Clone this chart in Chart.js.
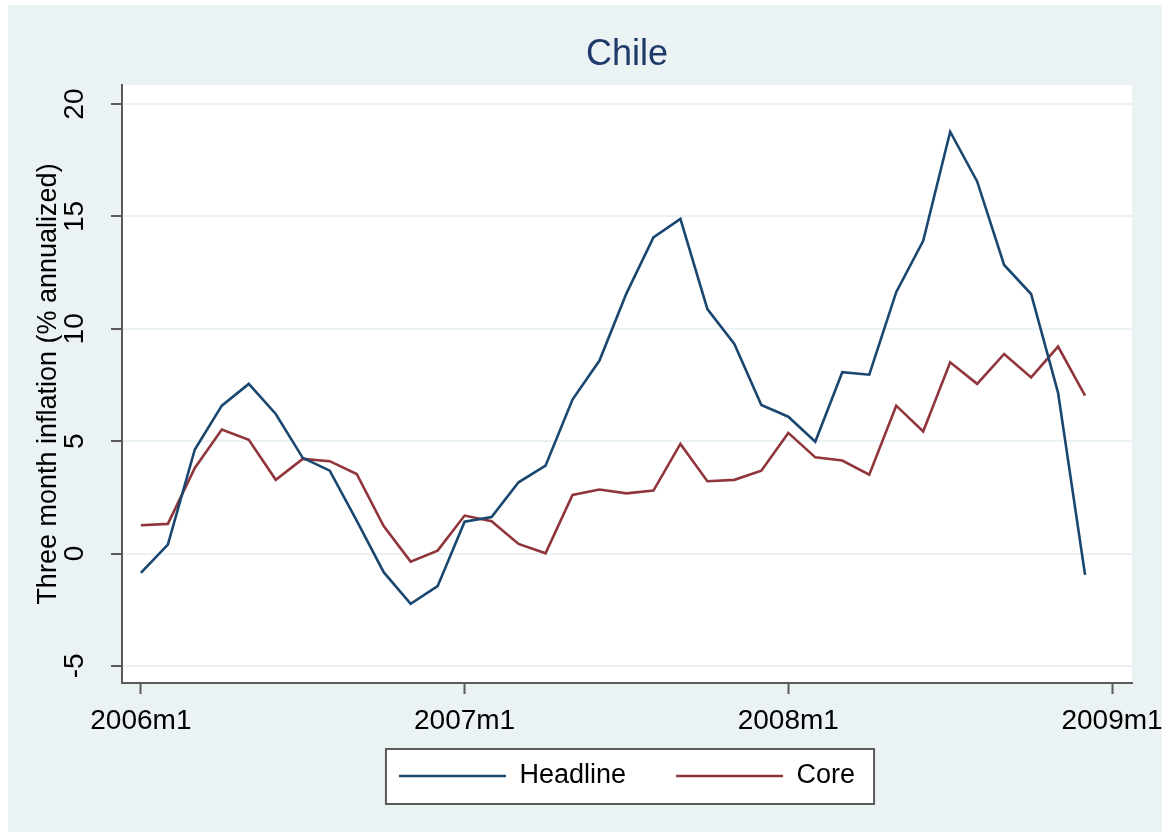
<!DOCTYPE html>
<html>
<head>
<meta charset="utf-8">
<title>Chile - Three month inflation</title>
<script src="https://cdn.jsdelivr.net/npm/chart.js@4/dist/chart.umd.min.js"></script>
<style>
  html, body { margin: 0; padding: 0; background: #ffffff; overflow: hidden; }
  #frame {
    position: absolute;
    left: 8px; top: 5px;
    width: 1154px; height: 827px;
    background: #eaf2f3;
    overflow: hidden;
  }
  #chileChart { display: block; }
</style>
</head>
<body>
<div id="frame"><canvas id="chileChart" width="1154" height="827"></canvas></div>
<script>
// Monthly observations, 2006m1 .. 2008m12
const months = [
  "2006m1", "2006m2", "2006m3", "2006m4", "2006m5", "2006m6",
  "2006m7", "2006m8", "2006m9", "2006m10", "2006m11", "2006m12",
  "2007m1", "2007m2", "2007m3", "2007m4", "2007m5", "2007m6",
  "2007m7", "2007m8", "2007m9", "2007m10", "2007m11", "2007m12",
  "2008m1", "2008m2", "2008m3", "2008m4", "2008m5", "2008m6",
  "2008m7", "2008m8", "2008m9", "2008m10", "2008m11", "2008m12"
];

const headline = [
  -0.86, 0.40, 4.63, 6.58, 7.55, 6.21, 4.26, 3.69, 1.47, -0.83, -2.24, -1.45,
  1.42, 1.62, 3.17, 3.91, 6.85, 8.59, 11.58, 14.07, 14.89, 10.88, 9.33, 6.61,
  6.09, 4.98, 8.07, 7.96, 11.63, 13.92, 18.77, 16.56, 12.84, 11.55, 7.15, -0.95
];

const core = [
  1.26, 1.32, 3.81, 5.52, 5.06, 3.28, 4.21, 4.11, 3.54, 1.22, -0.36, 0.13,
  1.69, 1.44, 0.43, 0.01, 2.61, 2.85, 2.68, 2.80, 4.88, 3.22, 3.28, 3.69,
  5.37, 4.28, 4.14, 3.51, 6.58, 5.43, 8.51, 7.55, 8.88, 7.84, 9.21, 7.03
];

// Axis ticks (x ticks are month indexes: 2006m1 = 0)
const xTickValues = [0, 12, 24, 36];
const xTickLabels = ["2006m1", "2007m1", "2008m1", "2009m1"];
const yTickValues = [-5, 0, 5, 10, 15, 20];

const FONT = "'Liberation Sans', Arial, Helvetica, sans-serif";
const AXIS_GREY = "#5a5a5a";
const GRID_LIGHT = "#eaf2f3";

document.addEventListener("DOMContentLoaded", () => {
  initChart();
});

/* white plot region + framed legend, Stata style */
const plotBackground = {
  id: "plotBackground",
  beforeDraw(chart) {
    const { ctx, chartArea: a } = chart;
    ctx.save();
    ctx.fillStyle = "#ffffff";
    ctx.fillRect(a.left, a.top, a.right - a.left, a.bottom - a.top);
    ctx.restore();
  }
};

const legendFrame = {
  id: "legendFrame",
  afterDraw(chart) {
    const boxes = chart.legend && chart.legend.legendHitBoxes;
    if (!boxes || !boxes.length) return;
    const first = boxes[0];
    const last = boxes[boxes.length - 1];
    const midY = first.top + first.height / 2;
    const x0 = first.left - 13;
    const x1 = last.left + last.width + 19;
    const y0 = midY - 27;
    const y1 = midY + 28;
    const ctx = chart.ctx;
    ctx.save();
    ctx.fillStyle = "#ffffff";
    ctx.globalCompositeOperation = "destination-over";
    ctx.fillRect(x0, y0, x1 - x0, y1 - y0);
    ctx.globalCompositeOperation = "source-over";
    ctx.strokeStyle = AXIS_GREY;
    ctx.lineWidth = 2;
    ctx.strokeRect(x0, y0, x1 - x0, y1 - y0);
    ctx.restore();
  }
};

function toPoints(values) {
  return values.map((v, i) => ({ x: i, y: v }));
}

function initChart() {
  const ctx = document.getElementById("chileChart").getContext("2d");

  new Chart(ctx, {
    type: "line",
    data: {
      labels: months,
      datasets: [
        {
          label: "Headline",
          data: toPoints(headline),
          borderColor: "#1a476f",
          backgroundColor: "#1a476f",
          borderWidth: 2.6,
          pointRadius: 0,
          tension: 0,
          fill: false
        },
        {
          label: "Core",
          data: toPoints(core),
          borderColor: "#90353b",
          backgroundColor: "#90353b",
          borderWidth: 2.6,
          pointRadius: 0,
          tension: 0,
          fill: false
        }
      ]
    },
    options: {
      responsive: false,
      animation: false,
      devicePixelRatio: 1,
      layout: {
        padding: { left: 0, right: 30, top: 0, bottom: 32.5 }
      },
      plugins: {
        tooltip: { enabled: false },
        title: {
          display: true,
          text: "Chile",
          color: "#1e3a6b",
          fullSize: false,
          font: { family: FONT, size: 36, weight: "normal" },
          padding: { top: 28.4, bottom: 8.4 }
        },
        legend: {
          position: "bottom",
          fullSize: false,
          labels: {
            color: "#000000",
            font: { family: FONT, size: 27 },
            usePointStyle: true,
            pointStyle: "line",
            pointStyleWidth: 107,
            padding: 50
          }
        }
      },
      scales: {
        x: {
          type: "linear",
          min: -0.7,
          max: 36.74,
          afterBuildTicks: (scale) => {
            scale.ticks = xTickValues.map(v => ({ value: v }));
          },
          afterFit: (scale) => {
            // keep the legend close to the axis, and let the tick labels
            // spill below the (short) axis box instead of being clipped
            scale.height = 29.5;
            scale.paddingLeft = 0;
            scale.paddingRight = 0;
            scale._computeLabelArea = () => undefined;
          },
          grid: {
            drawOnChartArea: false,
            drawTicks: true,
            tickLength: 11,
            tickColor: AXIS_GREY,
            tickWidth: 2
          },
          border: { display: true, color: AXIS_GREY, width: 2 },
          ticks: {
            color: "#000000",
            font: { family: FONT, size: 28 },
            padding: 10,
            maxRotation: 0,
            minRotation: 0,
            callback: (value) => {
              const idx = xTickValues.indexOf(value);
              return idx >= 0 ? xTickLabels[idx] : "";
            }
          }
        },
        y: {
          type: "linear",
          min: -5.76,
          max: 20.85,
          afterBuildTicks: (scale) => {
            scale.ticks = yTickValues.map(v => ({ value: v }));
          },
          afterFit: (scale) => {
            scale.width = 114;
            scale.paddingTop = 0;
            scale.paddingBottom = 0;
          },
          grid: {
            color: GRID_LIGHT,
            lineWidth: 2,
            drawTicks: true,
            tickLength: 11,
            tickColor: AXIS_GREY,
            tickWidth: 2
          },
          border: { display: true, color: AXIS_GREY, width: 2 },
          ticks: {
            color: "#000000",
            font: { family: FONT, size: 28 },
            minRotation: 90,
            maxRotation: 90,
            crossAlign: "center",
            padding: 20.5
          },
          title: {
            display: true,
            text: "Three month inflation (% annualized)",
            color: "#000000",
            font: { family: FONT, size: 27 },
            padding: { top: 24, bottom: 0 }
          }
        }
      }
    },
    plugins: [plotBackground, legendFrame]
  });
}
</script>
</body>
</html>
